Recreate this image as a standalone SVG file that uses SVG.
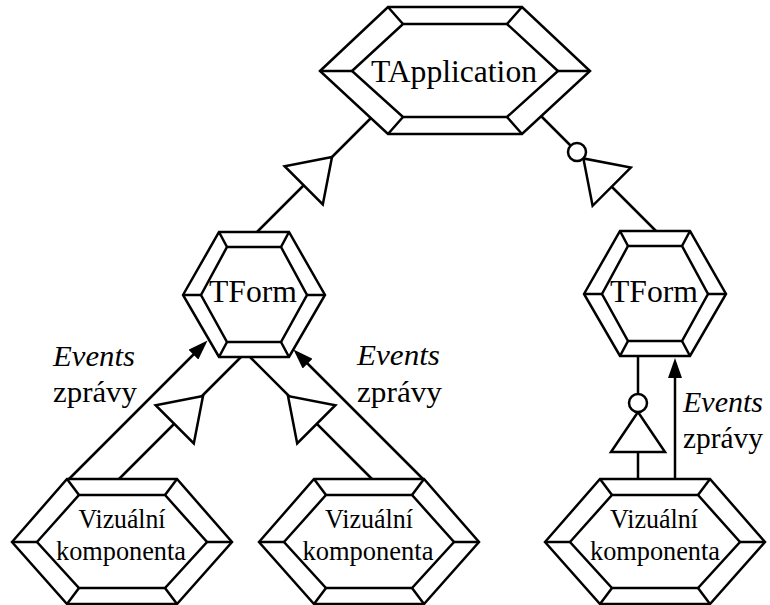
<svg xmlns="http://www.w3.org/2000/svg" xmlns:xlink="http://www.w3.org/1999/xlink" width="770" height="605" viewBox="0 0 770 605">
  <style>
    .edge { fill: none; stroke: #000; stroke-width: 2.5; }
    .hex { fill: #fff; stroke: #000; stroke-width: 2.5; stroke-linejoin: miter; }
    .tri { fill: #fff; stroke: #000; stroke-width: 2.5; stroke-linejoin: miter; }
    .dot { fill: #fff; stroke: #000; stroke-width: 2.5; }
    text { font-family: 'Liberation Serif', 'Times New Roman', serif; fill: #000; }
    .name { font-size: 31px; text-anchor: middle; }
    .comp { font-size: 27px; text-anchor: middle; }
    .lbl { font-size: 29px; }
    .it { font-style: italic; }
  </style>
  <defs>
    <marker id="head" viewBox="0 0 20 14" refX="15" refY="7" markerWidth="20" markerHeight="14" markerUnits="userSpaceOnUse" orient="auto">
      <path d="M0,0 L20,7 L0,14 Z" fill="#000"/>
    </marker>
    <!-- inheritance triangle, apex at origin, pointing along +x -->
    <path id="tri" class="tri" d="M0,0 L-40,-27 L-40,27 Z"/>
    <!-- framed hexagon, large -->
    <g id="hexApp" class="hex">
      <path d="M-135,0 L-67,-64 L67,-64 L135,0 L67,63 L-67,63 Z"/>
      <path d="M-103,0 L-52,-47 L52,-47 L103,0 L52,46 L-52,46 Z"/>
      <path d="M-135,0 L-103,0 M-67,-64 L-52,-47 M67,-64 L52,-47 M135,0 L103,0 M67,63 L52,46 M-67,63 L-52,46"/>
    </g>
    <!-- framed hexagon, form -->
    <g id="hexForm" class="hex">
      <path d="M-71,0 L-35,-63 L35,-63 L71,0 L35,62 L-35,62 Z"/>
      <path d="M-53,0 L-27,-48 L27,-48 L53,0 L27,47 L-27,47 Z"/>
      <path d="M-71,0 L-53,0 M-35,-63 L-27,-48 M35,-63 L27,-48 M71,0 L53,0 M35,62 L27,47 M-35,62 L-27,47"/>
    </g>
    <!-- framed hexagon, component -->
    <g id="hexComp" class="hex">
      <path d="M-110,0 L-55,-63 L55,-63 L110,0 L55,62 L-55,62 Z"/>
      <path d="M-85,0 L-43,-47 L43,-47 L85,0 L43,46 L-43,46 Z"/>
      <path d="M-110,0 L-85,0 M-55,-63 L-43,-47 M55,-63 L43,-47 M110,0 L85,0 M55,62 L43,46 M-55,62 L-43,46"/>
    </g>
  </defs>

  <g id="connectors">
    <!-- TForm (left) inherits from TApplication -->
    <line class="edge" x1="257" y1="232" x2="371" y2="118"/>
    <use xlink:href="#tri" href="#tri" transform="translate(332,157) rotate(-45)"/>
    <!-- TForm (right) to TApplication, with circle -->
    <line class="edge" x1="541" y1="116" x2="657" y2="232"/>
    <use xlink:href="#tri" href="#tri" transform="translate(583.4,158.4) rotate(-135)"/>
    <circle class="dot" cx="577" cy="152" r="9"/>
    <!-- left component -->
    <line class="edge" x1="69" y1="479" x2="204" y2="344" marker-end="url(#head)"/>
    <line class="edge" x1="119" y1="479" x2="241" y2="357"/>
    <use xlink:href="#tri" href="#tri" transform="translate(203,396) rotate(-45)"/>
    <!-- middle component -->
    <line class="edge" x1="423" y1="479" x2="297" y2="353" marker-end="url(#head)"/>
    <line class="edge" x1="372" y1="479" x2="250" y2="357"/>
    <use xlink:href="#tri" href="#tri" transform="translate(288,396) rotate(-135)"/>
    <!-- right component -->
    <line class="edge" x1="638" y1="479" x2="638" y2="357"/>
    <use xlink:href="#tri" href="#tri" transform="translate(638,412) rotate(-90)"/>
    <circle class="dot" cx="638" cy="403" r="9"/>
    <line class="edge" x1="675" y1="479" x2="675" y2="363" marker-end="url(#head)"/>
    <!-- connector labels -->
    <text class="lbl it" x="53" y="366" textLength="82" lengthAdjust="spacingAndGlyphs">Events</text>
    <text class="lbl" x="53" y="402" textLength="84" lengthAdjust="spacingAndGlyphs">zprávy</text>
    <text class="lbl it" x="357" y="365" textLength="83" lengthAdjust="spacingAndGlyphs">Events</text>
    <text class="lbl" x="357" y="402" textLength="85" lengthAdjust="spacingAndGlyphs">zprávy</text>
    <text class="lbl it" x="683" y="412" textLength="80" lengthAdjust="spacingAndGlyphs">Events</text>
    <text class="lbl" x="683" y="448" textLength="80" lengthAdjust="spacingAndGlyphs">zprávy</text>
  </g>

  <g id="tapplication">
    <use xlink:href="#hexApp" href="#hexApp" transform="translate(455,71)"/>
    <text class="name" x="454" y="82" textLength="166" lengthAdjust="spacingAndGlyphs">TApplication</text>
  </g>
  <g id="tform-left">
    <use xlink:href="#hexForm" href="#hexForm" transform="translate(254,295)"/>
    <text class="name" x="253" y="302" textLength="88" lengthAdjust="spacingAndGlyphs">TForm</text>
  </g>
  <g id="tform-right">
    <use xlink:href="#hexForm" href="#hexForm" transform="translate(655,294)"/>
    <text class="name" x="654" y="302" textLength="88" lengthAdjust="spacingAndGlyphs">TForm</text>
  </g>
  <g id="comp-left">
    <use xlink:href="#hexComp" href="#hexComp" transform="translate(122,542)"/>
    <text class="comp" x="122" y="528" textLength="87" lengthAdjust="spacingAndGlyphs">Vizuální</text>
    <text class="comp" x="121" y="560" textLength="130" lengthAdjust="spacingAndGlyphs">komponenta</text>
  </g>
  <g id="comp-middle">
    <use xlink:href="#hexComp" href="#hexComp" transform="translate(369,542)"/>
    <text class="comp" x="369" y="528" textLength="88" lengthAdjust="spacingAndGlyphs">Vizuální</text>
    <text class="comp" x="368" y="560" textLength="131" lengthAdjust="spacingAndGlyphs">komponenta</text>
  </g>
  <g id="comp-right">
    <use xlink:href="#hexComp" href="#hexComp" transform="translate(655,542)"/>
    <text class="comp" x="654" y="528" textLength="88" lengthAdjust="spacingAndGlyphs">Vizuální</text>
    <text class="comp" x="655" y="560" textLength="130" lengthAdjust="spacingAndGlyphs">komponenta</text>
  </g>
</svg>
